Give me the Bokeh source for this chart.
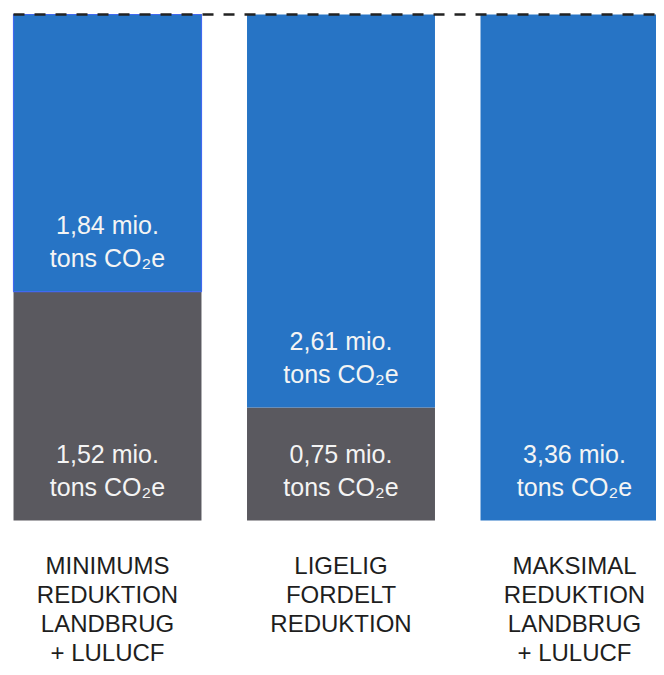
from bokeh.plotting import figure
from bokeh.models import Range1d, ColumnDataSource
from bokeh.core.properties import value
from bokeh.embed import file_html
from bokeh.resources import INLINE

# ---- data ----
categories = [
    ["MINIMUMS", "REDUKTION", "LANDBRUG", "+ LULUCF"],
    ["LIGELIG", "FORDELT", "REDUKTION"],
    ["MAKSIMAL", "REDUKTION", "LANDBRUG", "+ LULUCF"],
]
gray_values = [1.52, 0.75, 0.0]   # grey (lower) segment, mio. tons CO2e
blue_values = [1.84, 2.61, 3.36]  # blue (upper) segment, mio. tons CO2e

BLUE = "#2774C5"
GRAY = "#5A595F"
FONT = "Liberation Sans"

n = len(categories)
xs = list(range(n))
bar_w = 0.805
totals = [g + b for g, b in zip(gray_values, blue_values)]
top = max(totals)

W, H = 656, 667
px_x = 233.5            # pixels per category step
px_y = 506 / 3.36       # pixels per mio. tons
x0 = -107 / px_x
y1 = 520 / px_y
p = figure(width=W, height=H, output_backend="svg", toolbar_location=None,
           x_range=Range1d(x0, x0 + W / px_x), y_range=Range1d(y1 - H / px_y, y1),
           min_border=0)
p.axis.visible = False
p.grid.visible = False
p.outline_line_color = None
p.background_fill_color = "white"

# grey segments
p.vbar(x=xs, width=bar_w, bottom=0, top=gray_values, fill_color=GRAY, line_color=None)
# blue segments (first one with a thin bright-blue outline)
blue_line = ["#4169F0" if i == 0 else None for i in xs]
src_b = ColumnDataSource(dict(x=xs, bottom=gray_values, top=totals, lc=blue_line))
p.vbar(x="x", width=bar_w, bottom="bottom", top="top", source=src_b,
       fill_color=BLUE, line_color="lc", line_width=1.2)

# dashed reference line at the common total
p.line(x=[xs[0] - bar_w / 2, xs[-1] + 2], y=[top, top], line_color="#222222",
       line_width=2.4, line_dash="11 10")

# value labels inside segments
def fmt(v):
    return f"{v:.2f}".replace(".", ",") + " mio."

lx, ly, lt, lo = [], [], [], []
for i in xs:
    segs = [(0.0, gray_values[i]), (gray_values[i], blue_values[i])]
    for base, v in segs:
        if v <= 0:
            continue
        lx += [i, i]
        ly += [base, base]
        lt += [fmt(v), "tons CO\u2082e"]
        lo += [-67, -34]
p.text(x=lx, y=ly, text=lt, y_offset=lo, text_align="center", text_baseline="middle",
       text_color="#F4F4F4", text_font=value(FONT), text_font_size="25px")

# category labels below bars
cx, cy, ct, co = [], [], [], []
for i, lines in enumerate(categories):
    for j, line in enumerate(lines):
        cx.append(i)
        cy.append(0)
        ct.append(line)
        co.append(45 + 29 * j)
p.text(x=cx, y=cy, text=ct, y_offset=co, text_align="center", text_baseline="middle",
       text_color="#1E1E1E", text_font=value(FONT), text_font_size="24px")

open("out.html", "w").write(file_html(p, INLINE))
